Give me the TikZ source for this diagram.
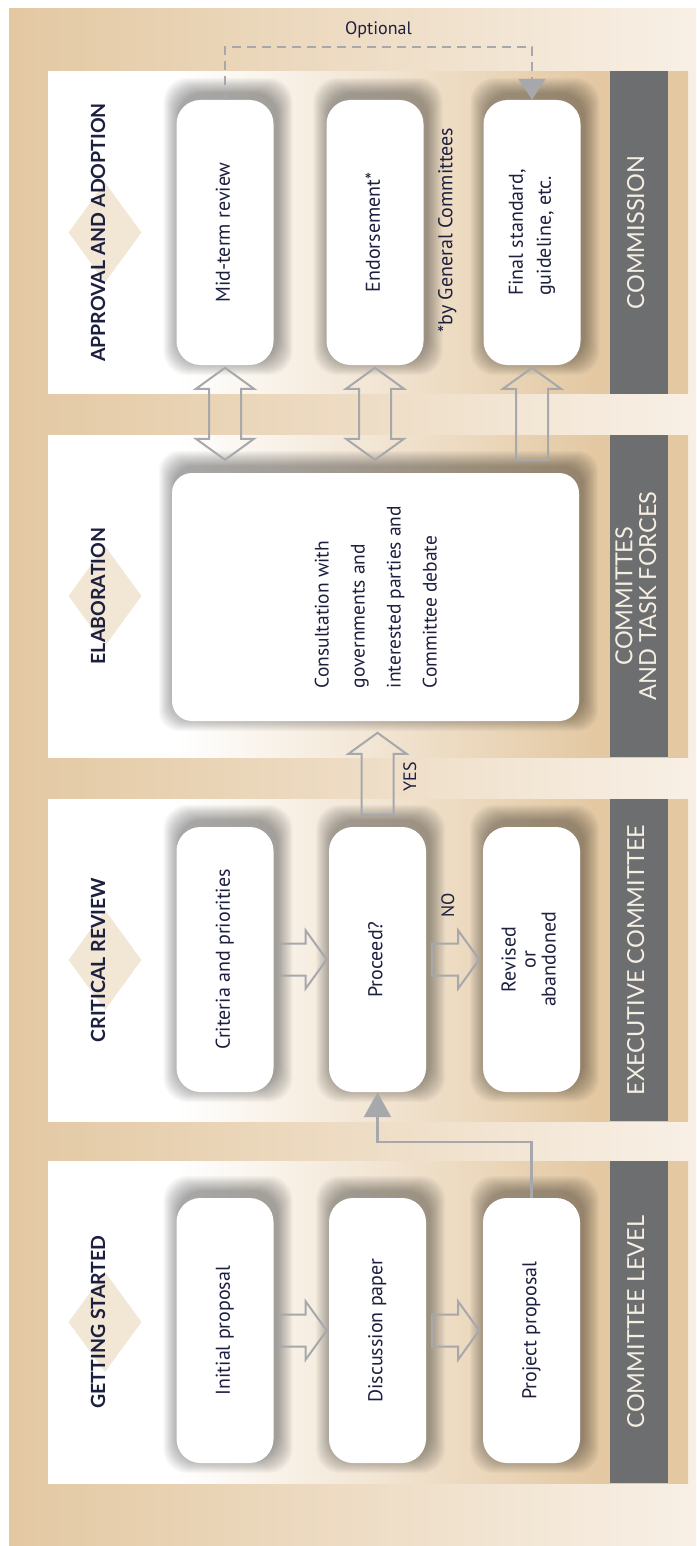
\documentclass[tikz,border=0pt]{standalone}
\usepackage{fontspec}
\setmainfont{PT Sans}
\newfontfamily\latofont{Lato}
\usepackage{graphicx}
\usetikzlibrary{shapes.geometric,arrows.meta}
\definecolor{tanC}{HTML}{E3C8A2}
\definecolor{creamC}{HTML}{F8F0E6}
\definecolor{barC}{HTML}{6D6E70}
\definecolor{barText}{HTML}{F5EEE2}
\definecolor{inkC}{HTML}{1D1F3F}
\definecolor{arrowC}{HTML}{A6A8AB}
\pgfdeclarehorizontalshading{panelshade}{100bp}{color(0bp)=(white); color(35bp)=(white); color(68bp)=(tanC); color(100bp)=(tanC)}
\pgfdeclarelayer{backdrop}
\pgfdeclarelayer{shadow}
\pgfsetlayers{backdrop,shadow,main}
\newcommand\vtext[2][c]{\rotatebox{90}{\begin{tabular}{@{}#1@{}}#2\end{tabular}}}
% soft shadow behind a named box
\newcommand\softshadow[2][24pt]{%
  \foreach \r in {1,...,16}
    \fill[black,opacity=.022,rounded corners=#1] ([shift={(3-\r,6-\r)}]#2.south west) rectangle ([shift={(3+\r,6+\r)}]#2.north east);}
\tikzset{
  pics/blockarr/.style={code={
    \draw[blockline] (0,-16) -- ({#1-21},-16) -- ({#1-21},-29) -- (#1,0) -- ({#1-21},29) -- ({#1-21},16) -- (0,16) -- cycle;}},
  pics/dblarr/.style={code={
    \draw[blockline] (0,0) -- (21,29) -- (21,16) -- ({#1-21},16) -- ({#1-21},29) -- (#1,0) -- ({#1-21},-29) -- ({#1-21},-16) -- (21,-16) -- (21,-29) -- cycle;}}
}
\begin{document}
\begin{tikzpicture}[x=1pt,y=1pt,
    stepbox/.style={fill=white,rounded corners=24pt,minimum width=97pt,minimum height=265pt,inner sep=0pt,text=inkC,font=\fontsize{20}{24}\selectfont},
    stagebar/.style={fill=barC,minimum width=58pt,minimum height=322pt,inner sep=0pt,text=barText,font=\latofont\fontsize{23.5}{22}\selectfont},
    stagetitle/.style={text=inkC,font=\latofont\bfseries\fontsize{19.5}{20}\selectfont},
    stagemark/.style={diamond,fill=tanC,fill opacity=.45,minimum width=73pt,minimum height=100pt,inner sep=0pt},
    lbl/.style={text=inkC,font=\fontsize{18}{20}\selectfont},
    blockline/.style={draw=arrowC,line width=2pt,line join=miter},
    optline/.style={draw=arrowC,line width=2pt,dash pattern=on 9pt off 6pt,-{Triangle[length=21pt,width=27pt]}},
    feedline/.style={draw=arrowC,line width=2.5pt,-{Triangle[length=25pt,width=27pt]}}]
  \useasboundingbox (0,0) rectangle (696,-1546);
  \begin{pgfonlayer}{backdrop}
    \fill[left color=tanC,right color=creamC] (9,-9) rectangle (696,-1546);
    \foreach \yc in {232.5,596,960,1322}
      \shade[shading=panelshade] (48,-\yc+161) rectangle (688,-\yc-161);
  \end{pgfonlayer}
  \foreach \yc/\stage/\who [count=\i] in {232.5/APPROVAL AND ADOPTION/COMMISSION,596/ELABORATION/COMMITTES\\AND TASK FORCES,960/CRITICAL REVIEW/EXECUTIVE COMMITTEE,1322/GETTING STARTED/COMMITTEE LEVEL}{
    \node[stagebar] (bar\i) at (639,-\yc) {\vtext{\who}};
    \node[stagemark] (mark\i) at (105,-\yc) {};
    \node[stagetitle] (title\i) at (101,-\yc) {\vtext{\stage}};
  }

  \node[stepbox] (midterm) at (225,-232.5) {\vtext{Mid-term review}};
  \node[stepbox] (endorse) at (375,-232.5) {\vtext{Endorsement*}};
  \node[stepbox] (final) at (532,-232.5) {\vtext[l]{Final standard,\\[4pt]guideline, etc.}};
  \node[lbl,font=\fontsize{20}{22}\selectfont] (gcnote) at (448,-230) {\vtext{*by General Committees}};

  \node[stepbox,minimum width=407pt,minimum height=248pt,rounded corners=20pt,font=\fontsize{19.5}{36}\selectfont] (consult) at (375.5,-597)
    {\vtext[l]{Consultation with\\governments and\\interested parties and\\Committee debate}};

  \node[stepbox] (criteria) at (225,-959.5) {\vtext{Criteria and priorities}};
  \node[stepbox] (proceed) at (377.5,-959.5) {\vtext{Proceed?}};
  \node[stepbox,font=\fontsize{20}{20}\selectfont] (revised) at (531.5,-959.5) {\vtext{Revised\\or\\abandoned}};

  \node[stepbox] (initial) at (225,-1330.5) {\vtext{Initial proposal}};
  \node[stepbox] (discussion) at (377.5,-1330.5) {\vtext{Discussion paper}};
  \node[stepbox] (project) at (531.5,-1330.5) {\vtext{Project proposal}};

  \begin{pgfonlayer}{shadow}
    \foreach \b in {midterm,endorse,final,criteria,proceed,revised,initial,discussion,project}
      \softshadow{\b};
    \softshadow[20pt]{consult};
  \end{pgfonlayer}

  \path (initial.east) ++(6,0) pic {blockarr=47};
  \path (discussion.east) ++(6,0) pic {blockarr=47};
  \path (criteria.east) ++(6,0) pic {blockarr=47};
  \path (proceed.east) ++(6,0) pic {blockarr=47};
  \path (proceed.north) ++(0,12) pic[rotate=90] {blockarr=82};
  \path (midterm.south |- consult.north) ++(0,13) pic[rotate=90] {dblarr=92};
  \path (endorse.south |- consult.north) ++(0,13) pic[rotate=90] {dblarr=92};
  \path (final.south |- consult.north) ++(0,13) pic[rotate=90] {blockarr=92};
  \node[lbl] (yes) at (412,-777) {\vtext{YES}};
  \node[lbl] (no) at (450,-905) {\vtext{NO}};

  \draw[feedline] (project.north) -- ++(0,56) -| (proceed.south);
  \draw[optline] (midterm.north) -- ++(0,53) -| node[pos=.25,above=4pt,lbl] (optional) {Optional} (final.north);
\end{tikzpicture}
\end{document}
